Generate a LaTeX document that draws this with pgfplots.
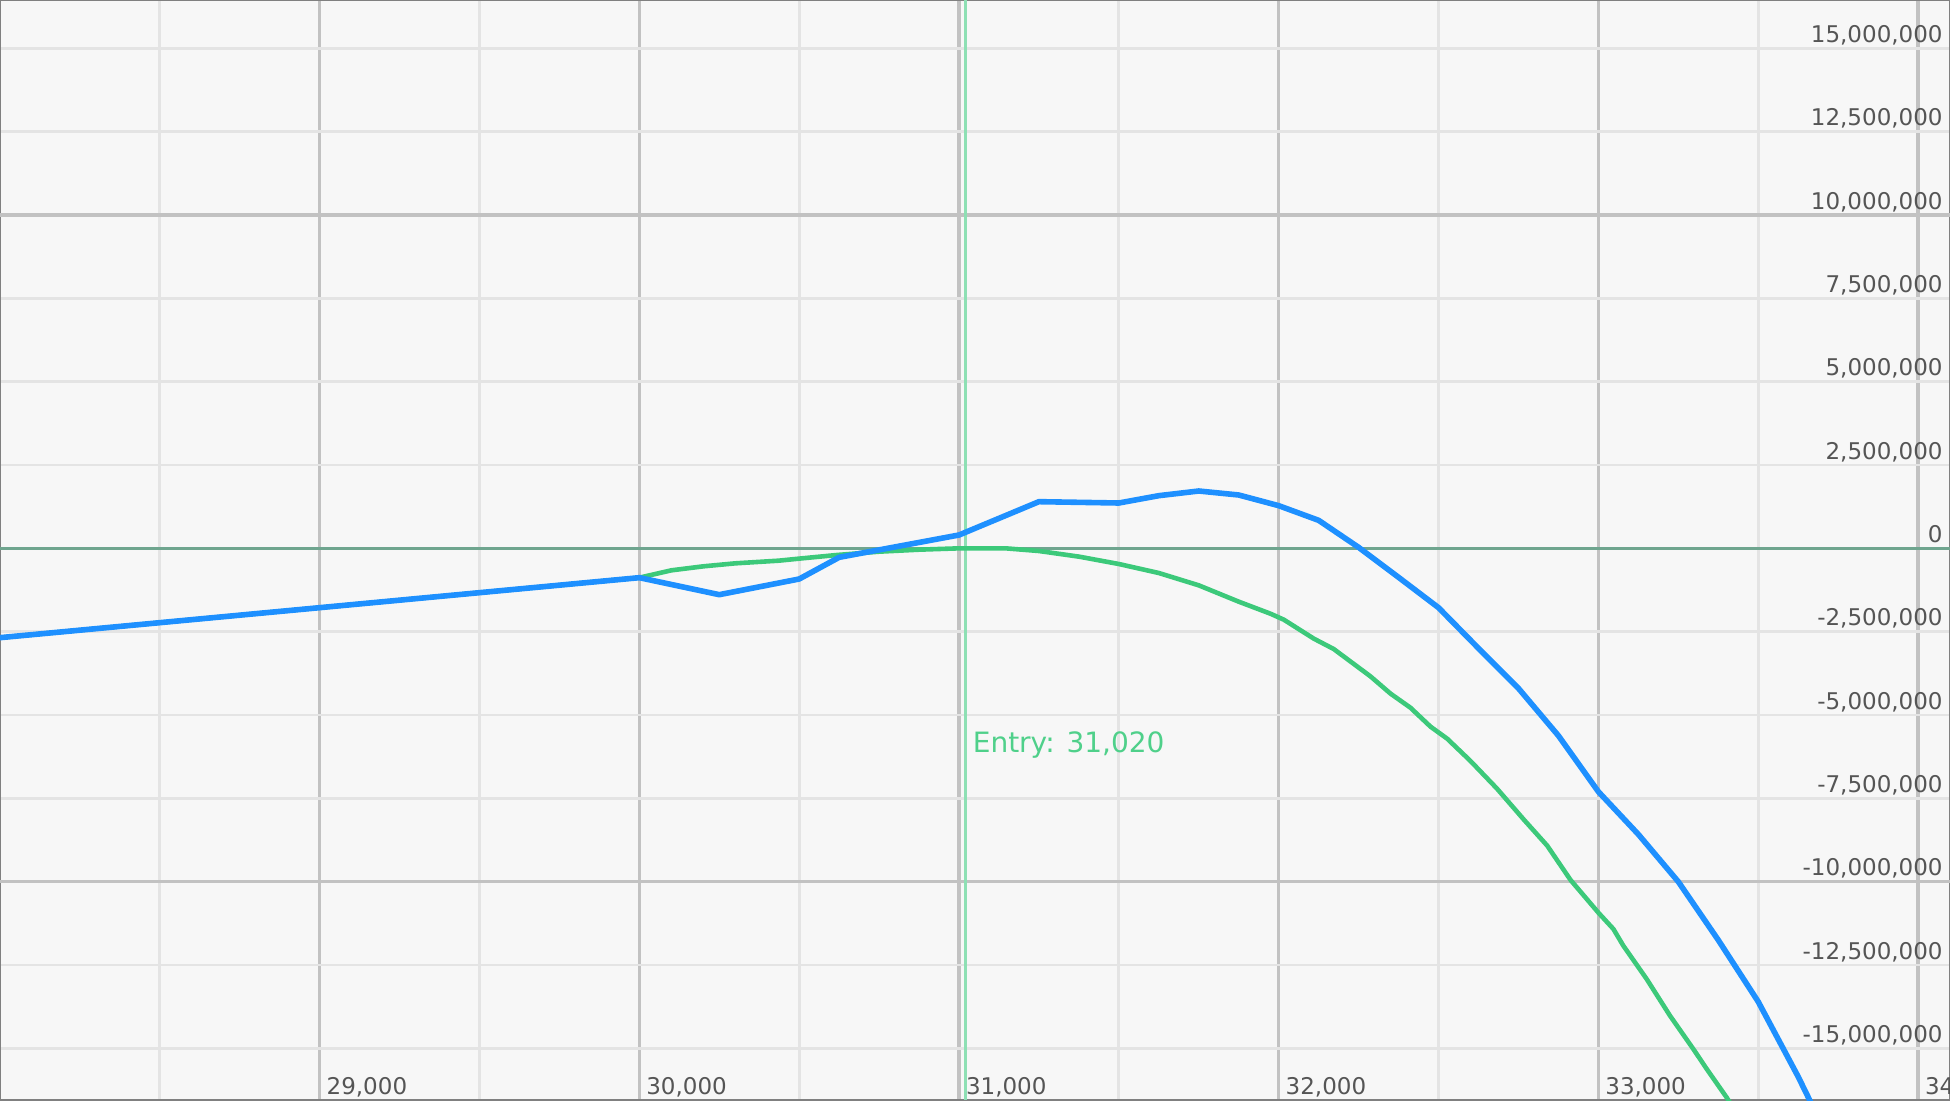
\documentclass[border=0pt]{standalone}
\usepackage{fontspec}
\setmainfont{DejaVu Sans}
\usepackage{pgfplots}
\pgfplotsset{compat=1.18}
\definecolor{bgcol}{HTML}{F7F7F7}
\definecolor{minorgrid}{HTML}{E4E4E4}
\definecolor{majorgrid}{HTML}{C2C2C2}
\definecolor{bordercol}{HTML}{808080}
\definecolor{bluecol}{HTML}{1E90FF}
\definecolor{greencol}{HTML}{3CC97A}
\definecolor{entrycol}{HTML}{8EE0B4}
\definecolor{entrylbl}{HTML}{4FD08A}
\definecolor{zerocol}{HTML}{6FA58F}
\definecolor{ticklbl}{HTML}{555555}
\begin{document}
\begin{tikzpicture}
\useasboundingbox (0,0) rectangle (975pt,550pt);
\clip (0,0) rectangle (975pt,550pt);
\begin{axis}[
  at={(0,0)}, anchor=south west,
  scale only axis,
  width=975pt, height=550pt,
  xmin=28000, xmax=34100,
  ymin=-16550000, ymax=16450000,
  axis background/.style={fill=bgcol},
  axis line style={draw=bordercol, line width=1.2pt},
  major tick length=0pt, minor tick length=0pt,
  scaled ticks=false,
  xtick={29000,30000,31000,32000,33000,34000},
  xticklabels={29{,}000,30{,}000,31{,}000,32{,}000,33{,}000,34{,}000},
  minor xtick={28500,29500,30500,31500,32500,33500},
  ytick={-15000000,-12500000,-10000000,-7500000,-5000000,-2500000,0,2500000,5000000,7500000,10000000,12500000,15000000},
  yticklabels={{-15,000,000},{-12,500,000},{-10,000,000},{-7,500,000},{-5,000,000},{-2,500,000},{0},{2,500,000},{5,000,000},{7,500,000},{10,000,000},{12,500,000},{15,000,000}},
  extra y ticks={-10000000,10000000},
  extra y tick labels={},
  extra y tick style={grid=major, major y grid style={draw=majorgrid, line width=1.8pt}},
  xmajorgrids=true, xminorgrids=true, ymajorgrids=true,
  major x grid style={draw=majorgrid, line width=1.8pt},
  minor x grid style={draw=minorgrid, line width=1.4pt},
  major y grid style={draw=minorgrid, line width=1.4pt},
  ytick pos=right, yticklabel pos=right,
  xtick pos=bottom,
  yticklabel style={anchor=base east, inner sep=0pt, xshift=-3.5pt, yshift=3pt, text=ticklbl, font=\fontsize{11.5}{13}\selectfont},
  xticklabel style={anchor=base west, inner sep=0pt, xshift=3.3pt, yshift=3pt, text=ticklbl, font=\fontsize{11.5}{13}\selectfont},
]
\addplot[draw=entrycol, line width=1.4pt] coordinates {(31020,-16550000) (31020,16450000)};
\addplot[draw=zerocol, line width=1.4pt] coordinates {(28000,0) (34100,0)};
\addplot[draw=greencol, line width=2.3pt, line join=round] coordinates {
(28000,-2680000)
(29000,-1780000)
(30000,-880000)
(30100,-660000)
(30200,-540000)
(30300,-450000)
(30436,-370000)
(30520,-290000)
(30618,-200000)
(30750,-100000)
(30875,-40000)
(31000,0)
(31146,0)
(31250,-80000)
(31376,-250000)
(31500,-470000)
(31625,-740000)
(31750,-1110000)
(31875,-1600000)
(31974,-1960000)
(32016,-2140000)
(32110,-2710000)
(32172,-3020000)
(32287,-3840000)
(32350,-4360000)
(32412,-4780000)
(32475,-5350000)
(32527,-5710000)
(32600,-6380000)
(32683,-7210000)
(32767,-8140000)
(32840,-8920000)
(32913,-9950000)
(33000,-10930000)
(33047,-11420000)
(33078,-11920000)
(33151,-12920000)
(33224,-14020000)
(33297,-15020000)
(33339,-15620000)
(33401,-16470000)
(33450,-17200000)
};
\addplot[draw=bluecol, line width=2.8pt, line join=round] coordinates {
(28000,-2680000)
(29000,-1780000)
(30000,-880000)
(30250,-1390000)
(30500,-920000)
(30625,-270000)
(31000,400000)
(31250,1400000)
(31500,1360000)
(31625,1580000)
(31750,1720000)
(31875,1600000)
(32000,1280000)
(32125,840000)
(32250,30000)
(32375,-870000)
(32500,-1780000)
(32625,-3000000)
(32750,-4200000)
(32875,-5620000)
(33000,-7300000)
(33125,-8580000)
(33250,-10000000)
(33375,-11750000)
(33500,-13600000)
(33625,-15850000)
(33750,-18300000)
};
\node[anchor=base west, inner sep=0pt, xshift=3.5pt, text=entrylbl, font=\fontsize{14}{16}\selectfont] at (axis cs:31020,-6120000) {Entry: 31,020};
\end{axis}
\end{tikzpicture}
\end{document}
